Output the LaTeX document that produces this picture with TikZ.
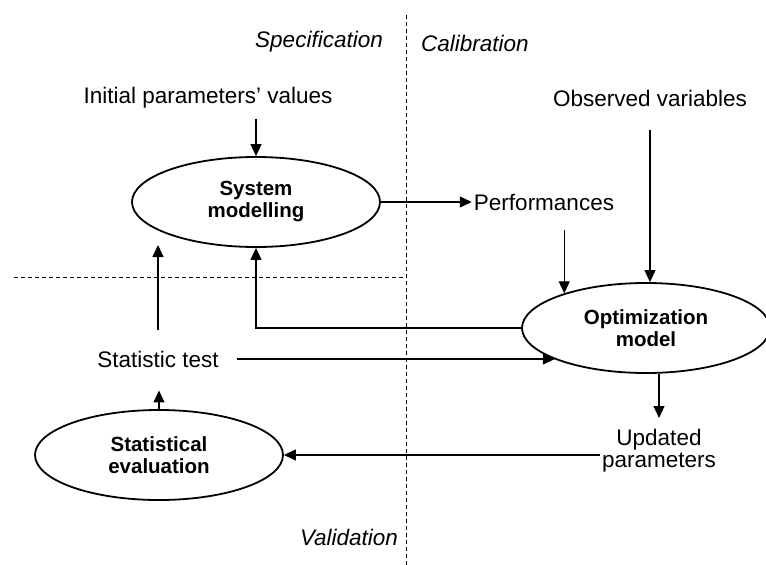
\documentclass[tikz,border=0pt]{standalone}
\usepackage{fontspec}
\setmainfont{Liberation Sans}
\usetikzlibrary{shapes.geometric, arrows.meta, positioning}

\begin{document}
\begin{tikzpicture}[
        x=1pt, y=-1pt,
        base/.style={
            align=center, inner sep=2pt, font=\fontsize{22.5}{22}\selectfont
        },
        proc/.style={
            ellipse, draw, line width=1.8pt, align=center, inner sep=0pt,
            minimum width=248pt, minimum height=90pt,
            font=\fontsize{20.5}{22}\selectfont\bfseries
        },
        phase/.style={base, font=\fontsize{22.5}{22}\selectfont\itshape},
        sep/.style={line width=0.9pt, dash pattern=on 4pt off 3pt},
        arrow/.style={line width=1.1pt, -{Triangle[length=12pt, width=11pt]}}
    ]
        \useasboundingbox (0,0) rectangle (766,565);

        % Linhas tracejadas (fases)
        \draw[sep] (406,15) -- (406,565);
        \draw[sep] (14,277) -- (406,277);

        \node[phase, anchor=east] (spec) at (385,42) {Specification};
        \node[phase, anchor=west] (calib) at (419,43) {Calibration};
        \node[phase] (valid) at (349,537) {Validation};

        % Nós (Elipses)
        \node[proc] (sys) at (256,202) {System\\modelling};
        \node[proc] (opt) at (646,328) {Optimization\\model};
        \node[proc] (eval) at (159,455) {Statistical\\evaluation};

        % Textos
        \node[base] (init) at (208,98) {Initial parameters' values};
        \node[base] (obs) at (650,98) {Observed variables};
        \node[base] (perf) at (544,202) {Performances};
        \node[base] (test) at (158,359) {Statistic test};
        \node[base, anchor=north] (upd) at (659,427) {Updated\\parameters};

        % Setas
        \draw[arrow] ([yshift=-8pt]init.south -| sys.north) -- (sys.north);
        \draw[arrow] ([yshift=-22pt]obs.south) -- (obs.south |- opt.north);
        \draw[arrow] (sys.east) -- (perf.west);
        \draw[arrow] ([yshift=-18pt]perf.south -| opt.157) -- (opt.157);
        \draw[arrow] (opt.west) -| (sys.south);
        \draw[arrow] ([yshift=19pt]test.north) -- ([yshift=-43pt]sys.center -| test.north);
        \draw[arrow] ([xshift=16pt]test.east) -- (test.east -| opt.199);
        \draw[arrow] (eval.north) -- ([yshift=-21pt]test.south -| eval.north);
        \draw[arrow] (opt.south -| upd.north) -- ([yshift=9pt]upd.north);
        \draw[arrow] (upd.west |- eval.east) -- (eval.east);

    \end{tikzpicture}
\end{document}
